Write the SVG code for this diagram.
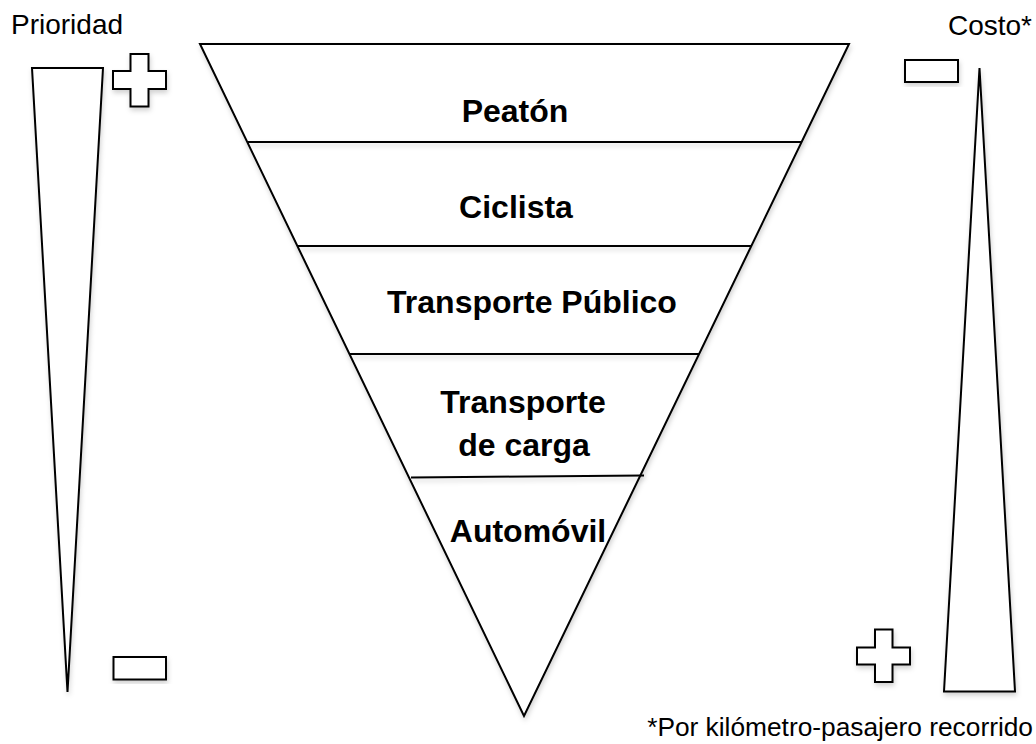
<svg xmlns="http://www.w3.org/2000/svg" width="1036" height="744" viewBox="0 0 1036 744">
<defs>
<filter id="sh" x="-20%" y="-20%" width="140%" height="140%">
<feDropShadow dx="1" dy="3" stdDeviation="2.5" flood-color="#000" flood-opacity="0.18"/>
</filter>
<style>
.s{fill:#fff;stroke:#000;stroke-width:2;stroke-linejoin:miter}
.l{fill:none;stroke:#000;stroke-width:2}
.t{font-family:"Liberation Sans",Arial,sans-serif;font-size:32px;font-weight:bold;fill:#000;text-anchor:middle}
.r{font-family:"Liberation Sans",Arial,sans-serif;fill:#000}
</style>
</defs>
<rect width="1036" height="744" fill="#fff"/>

<g id="pyramid" filter="url(#sh)">
<polygon class="s" points="200,44 849,44 524,716"/>
</g>
<g id="connectors" filter="url(#sh)">
<line class="l" x1="247" y1="142" x2="801" y2="142"/>
<line class="l" x1="297" y1="246" x2="751" y2="246"/>
<line class="l" x1="349" y1="354" x2="699" y2="354"/>
<line class="l" x1="411" y1="477.5" x2="644" y2="475.5"/>
</g>
<g id="node-peaton"><text class="t" x="515" y="122">Peatón</text></g>
<g id="node-ciclista"><text class="t" x="516" y="218">Ciclista</text></g>
<g id="node-publico"><text class="t" x="532" y="313">Transporte Público</text></g>
<g id="node-carga"><text class="t" x="523" y="413">Transporte</text><text class="t" x="524" y="456">de carga</text></g>
<g id="node-auto"><text class="t" x="528" y="542">Automóvil</text></g>

<g id="prioridad">
<text class="r" x="11" y="34" font-size="28">Prioridad</text>
<polygon class="s" filter="url(#sh)" points="32,68 103,68 67.5,692"/>
<polygon class="s" filter="url(#sh)" points="130.5,54 148.5,54 148.5,71 166,71 166,89 148.5,89 148.5,106.5 130.5,106.5 130.5,89 113,89 113,71 130.5,71"/>
<rect class="s" filter="url(#sh)" x="113.5" y="657" width="52.5" height="22.5"/>
</g>

<g id="costo">
<text class="r" x="1032" y="35" font-size="28" text-anchor="end">Costo*</text>
<polygon class="s" filter="url(#sh)" points="979.5,68 1015,691.5 944,691.5"/>
<rect class="s" filter="url(#sh)" x="905" y="60" width="53" height="22"/>
<polygon class="s" filter="url(#sh)" points="875,629.5 892.5,629.5 892.5,647.5 910,647.5 910,664.5 892.5,664.5 892.5,682 875,682 875,664.5 857,664.5 857,647.5 875,647.5"/>
</g>

<g id="footnote">
<text class="r" x="1033" y="736" font-size="26.3" text-anchor="end">*Por kilómetro-pasajero recorrido</text>
</g>
</svg>
